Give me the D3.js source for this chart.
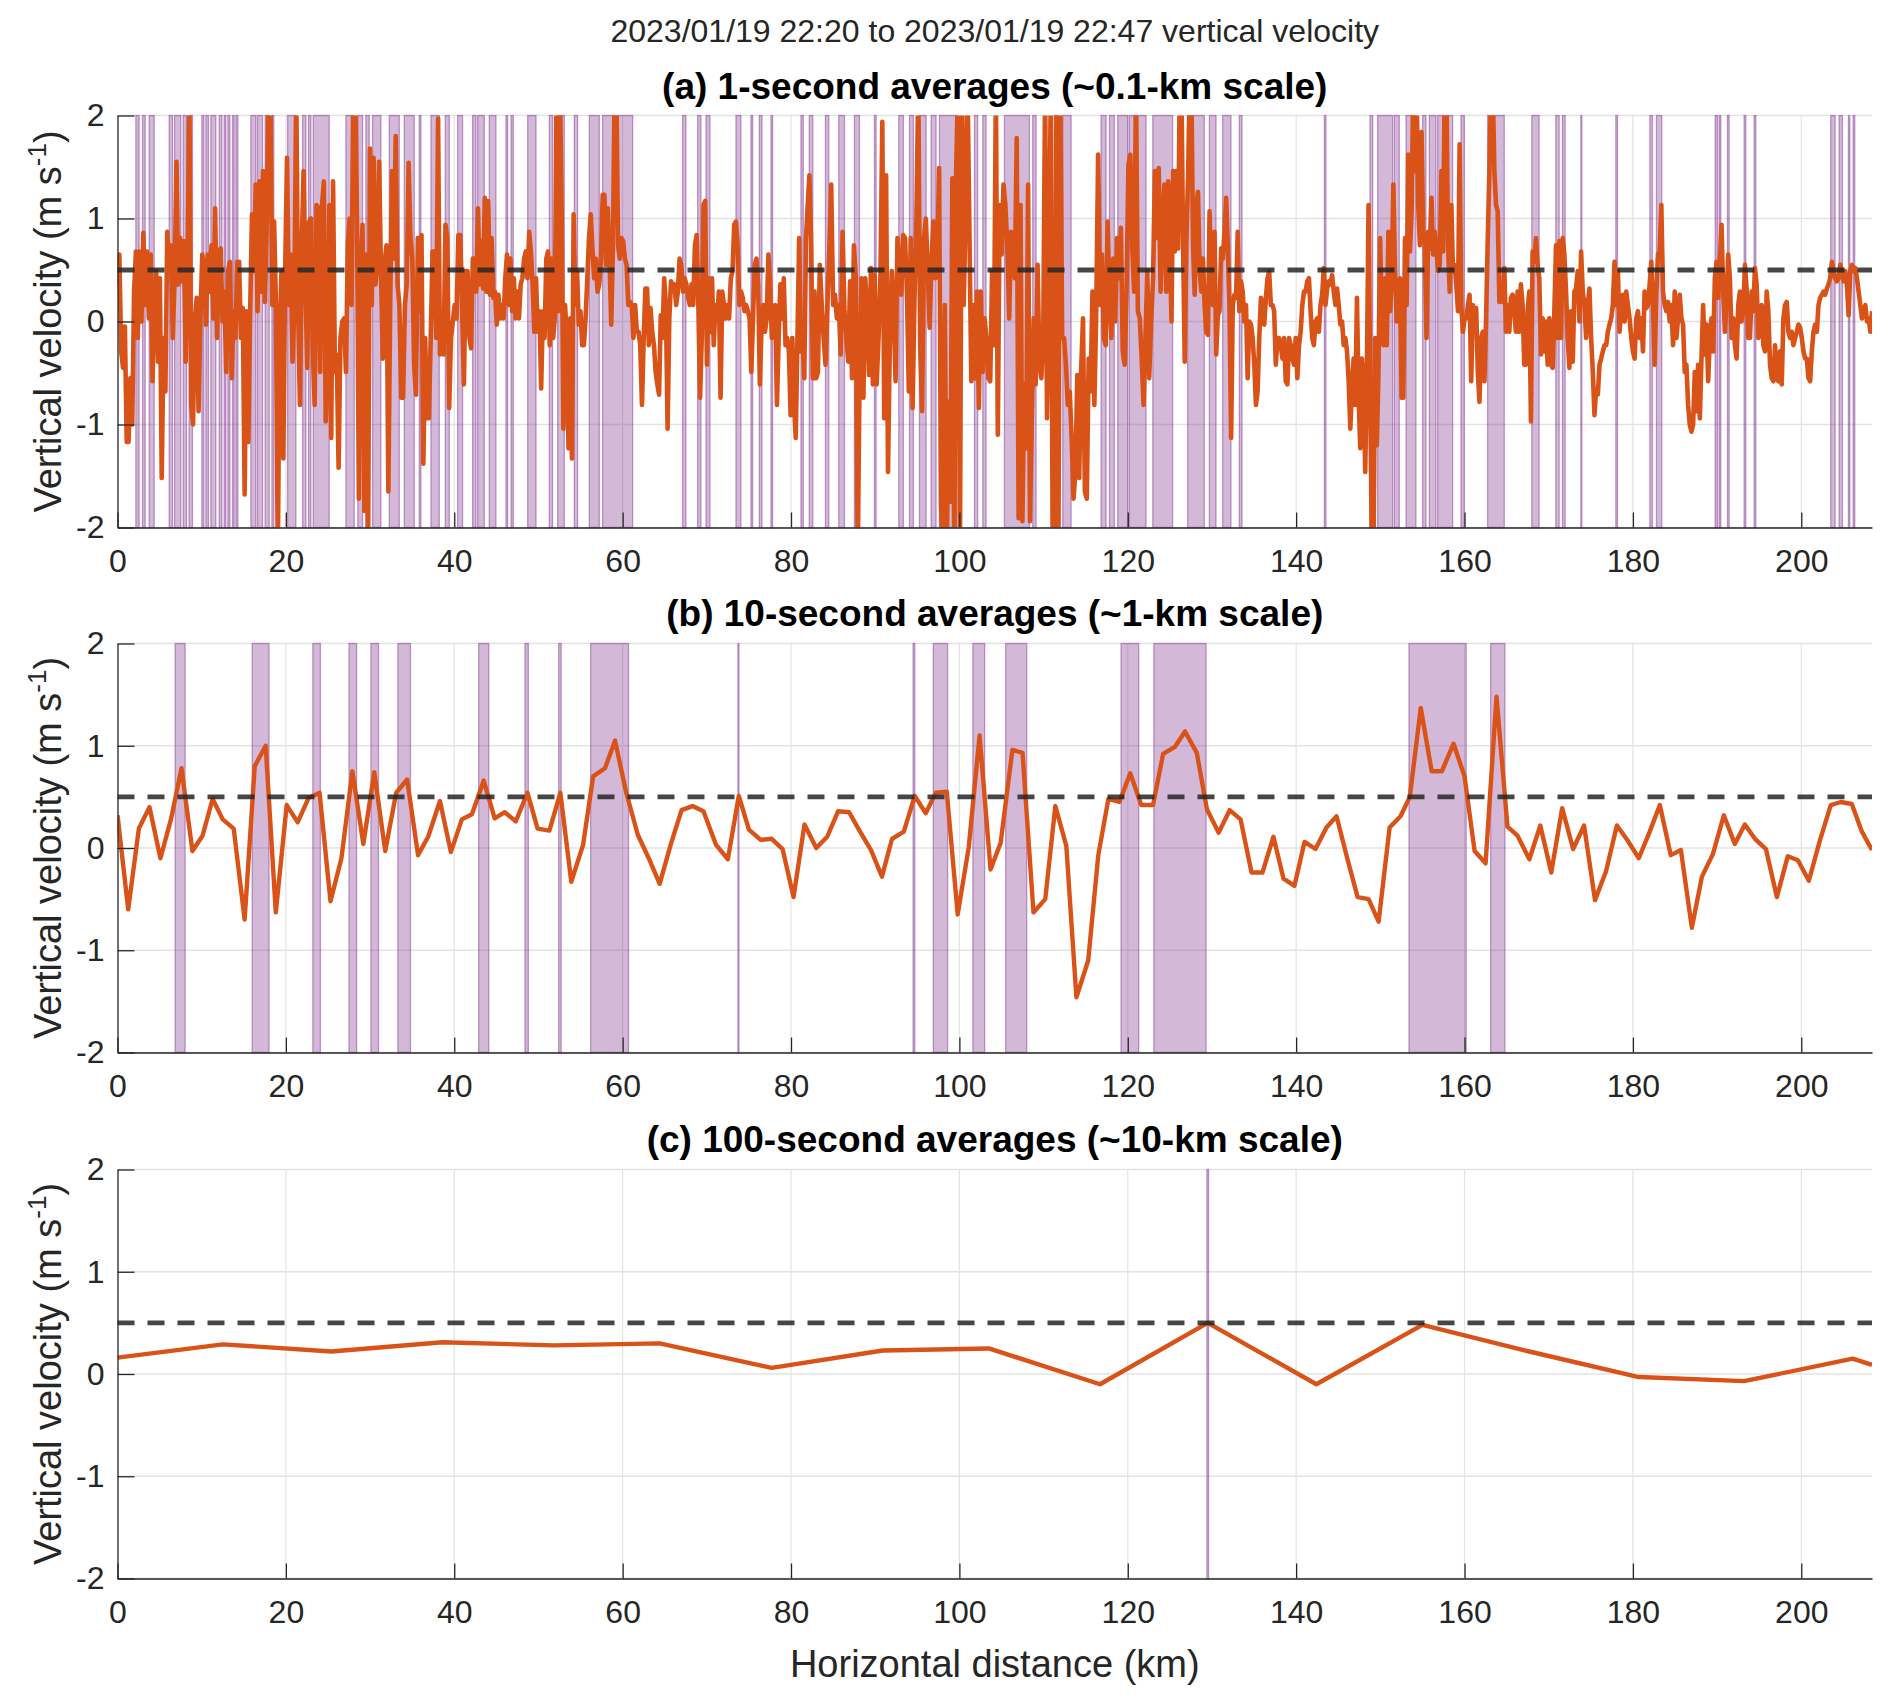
<!DOCTYPE html>
<html><head><meta charset="utf-8">
<script src="https://cdn.jsdelivr.net/npm/d3@7/dist/d3.min.js"></script>
<style>
body{margin:0;background:#fff}
svg{display:block}
text{font-family:"Liberation Sans",Arial,Helvetica,sans-serif;fill:#262626}
</style>
</head><body>
<svg id="chart" width="1892" height="1705"></svg>
<script>
// ---------------- DATA ----------------
const superTitle = "2023/01/19 22:20 to 2023/01/19 22:47 vertical velocity";
const panelTitles = ["(a) 1-second averages (~0.1-km scale)", "(b) 10-second averages (~1-km scale)", "(c) 100-second averages (~10-km scale)"];
const xLabel = "Horizontal distance (km)";
const xTicks = [0,20,40,60,80,100,120,140,160,180,200];
const yTicks = [-2,-1,0,1,2];
const xMax = 208.4;
const threshold = 0.5;

// (a) 1-second series, read in five consecutive distance chunks (km edges)
const aEdges = [0, 41.8, 83.2, 124.8, 166.3, 208.4];
const aChunk1 = [0.36,0.65,-0.29,-0.45,-0.05,-1.17,-1.17,-0.55,-1.00,0.29,0.68,-0.16,0.68,0,0.86,0.16,0.68,0.03,0.65,-0.58,
0.16,0.49,-0.39,0.42,-1.52,-0.16,-0.68,0.87,0.49,0.74,-0.16,0.42,1.55,0.36,0.81,0.39,0.78,-0.39,0.49,2.3,
-0.81,-1.00,0.03,0.23,-0.87,0.03,0.65,0.55,-0.03,0.65,0.29,0.74,0.03,1.10,-0.16,0.68,0.71,0,0.29,-0.49,
0.49,0.58,-0.55,0.10,-0.16,0.58,0.58,-0.16,0.13,-1.68,0.10,-1.17,0.10,1.04,0.49,1.33,0.10,1.36,0.29,1.46,
0.19,0.97,2.3,2.3,0.16,0.97,0.16,-2.3,-0.16,0.49,-1.33,0.49,1.59,0.16,0.65,-0.39,0.16,2.3,0.16,-0.81,
0.74,1.46,0.32,-0.45,0.97,1.00,-0.29,-0.81,1.13,1.10,-0.49,1.13,1.36,-0.97,-0.49,1.13,-1.13,1.36,-0.49,-0.32,
-1.42,-0.16,0,0.03,-0.49,0.74,1.00,0.16,2.3,2.3,0.94,-1.72,0.49,0.94,-1.84,0.65,-2.3,1.68,0.16,1.59,
0.36,0.55,1.55,0.49,-0.36,0.58,0.74,-1.65,0.16,1.46,0.61,1.80,0.36,0.16,-0.74,-0.74,0.16,0.36,1.54,0.81,
0.61,-0.42,-0.71,0.81,0.10,0.84,-1.38,-0.16,-0.94,-0.94,-0.16,0.68,0.68,-0.16,1.97,-0.32,0.03,-0.32,0.94,0.81,
-0.84,-0.16,0,0.16,0.03,0.84,0.84,0.16,-0.61,0.49,0.49];
const aChunk2 = [-0.16,-0.26,0.61,0.61,0.29,1.10,0.36,0.78,0.32,1.20,0.29,1.17,0.26,0.81,0.23,0.29,-0.03,0.26,0.03,0.16,
0.03,0.42,0.65,0.16,0.61,0.10,0.42,0.03,0.29,0.03,0.36,0.42,0.61,0.68,0.42,0.87,0.68,0.36,-0.10,0.42,
-0.10,0.10,-0.65,0.10,-0.16,0.61,0.68,-0.23,0.61,-0.16,0.03,2.3,0.10,2.3,1.07,-1.04,0.16,-0.16,-1.23,0.03,
-1.33,1.04,0.16,0.49,-0.03,0.10,-0.23,-0.23,0.03,0.42,0.81,1.04,0.71,0.42,0.61,0.29,0.36,0.61,1.23,1.23,
0.55,1.10,0.61,-0.03,0.74,2.3,2.3,0.74,0.61,0.81,0.78,0.61,0.55,0.16,0.19,0.16,-0.16,0.16,-0.10,-0.10,
-0.23,-0.81,-0.16,0.32,0.32,-0.23,0.13,-0.10,-0.23,-0.49,-0.61,-0.71,0.06,-0.16,0.42,0.16,-1.04,0.03,0.39,0.36,
0.36,0.16,0.29,0.61,0.55,0.29,0.42,0.36,0.23,0.16,0.36,0.16,0.74,0.84,0.16,-0.74,-0.16,1.13,1.17,-0.42,
0.42,-0.10,0.42,-0.23,0.16,0,0.29,-0.74,0.29,0.16,0.03,0.16,0.03,0.42,0.49,0.94,0.97,0.74,0.16,0.29,
0.23,0.10,0.16,0.10,0.03,-0.49,0.03,0.55,0.61,0.36,-0.61,-0.03,0.16,-0.10,0.03,0.65,0.36,-0.16,-0.10,0.16,
-0.81,-0.16,0.36,0.03,0.42,-0.23,-0.16,-0.29,-0.91,-0.16,-0.81,-1.13,-0.16,0.81,-0.29,-0.16,-0.55,0.81,1.13,1.42,
0.74,-0.55,0.29,-0.55];
const aChunk3 = [-0.49,0.55,0.16,-0.16,-0.42,0.16,0.71,1.33,0.16,0.26,0.03,0.16,-0.32,0.87,0.10,-0.16,-0.39,0.39,-0.55,0.74,
0.42,-2.3,-0.49,0.42,-0.74,0.42,0.10,-0.52,0.52,-0.61,0.45,-0.61,-0.16,0.42,1.94,-0.94,1.42,-1.46,-0.16,0.49,
0.10,-0.58,0.81,0.45,0.26,0.84,0.81,0.29,-0.68,0.81,-0.84,0.23,1.00,2.3,-0.23,-0.87,0.81,1.00,0.49,-0.06,
0.61,0.97,0.42,0.61,1.49,-1.78,-2.3,0.16,-2.3,-0.78,-1.75,1.39,-2.3,1.46,2.3,-2.3,2.3,0.16,1.07,2.3,
0.91,-0.58,0.16,-0.55,0.29,-0.84,0.29,-0.49,0.03,-0.16,-0.55,-0.58,0.49,-0.23,2.3,-1.10,1.13,0.65,1.33,1.13,
0.74,0.03,0.87,0.61,0.42,1.78,-1.91,1.13,-1.94,-0.61,-1.23,1.33,-1.94,-0.91,0.03,-0.61,0.55,-0.42,-0.55,-0.16,
2.3,-0.94,0.29,2.3,-2.3,-2.3,2.3,-2.3,2.3,-0.16,-0.16,-0.42,-0.81,-0.68,-1.13,-1.72,-1.46,-0.52,-1.52,-0.49,
0.03,-1.65,-1.72,-0.36,-0.68,0.29,-0.81,0.10,1.62,0.16,0.65,-0.16,-0.23,0.97,0.23,-0.16,0.61,0,0.81,0.42,
0.91,-0.29,-0.42,0.29,1.52,1.62,0.74,0.29,2.3,0.10,0.03,-0.36,-0.81,-0.16,0.49,-0.55,0,0.42,1.46,0.81,
1.49,0.29,1.00,1.33,0.29];
const aChunk4 = [1.36,0.74,0,1.46,0.68,1.46,0.71,2.3,2.3,0.74,-0.39,0.81,1.39,2.3,2.3,0.74,0.26,1.13,1.26,0.49,
0.29,0.61,0.16,-0.10,-0.13,1.07,0.32,0.16,0.87,-0.32,0.06,0.10,0.71,0.61,0.87,1.20,0.74,0.16,-1.13,0.16,
0.26,0.23,0.87,0.10,0.39,0.29,0,0.16,-0.55,0,-0.03,-0.16,-0.42,-0.81,-0.68,-0.16,0.23,0.16,-0.03,0.23,
0.42,0.49,0.16,0.16,0.10,-0.42,-0.16,-0.16,-0.23,-0.36,-0.16,-0.58,-0.61,-0.16,-0.23,-0.36,-0.42,-0.16,-0.55,-0.23,
-0.10,0.16,0.29,0.29,0.39,0.42,0.10,-0.16,-0.23,0,0.03,-0.10,0.16,0.26,0.52,0.16,0.32,0.39,0.36,0.45,
0.29,0.16,0.32,0.16,-0.03,0,-0.23,-0.16,-0.29,-0.58,-1.04,-0.61,-0.36,-0.81,0.23,-0.74,-1.23,-0.36,-0.58,-1.46,
-0.49,1.13,-0.58,-2.3,-2.3,-0.16,-1.20,-0.49,0.81,0.03,-0.23,0.42,-0.23,0.87,0.10,0.42,1.33,0.49,0,0.29,
0.42,-0.74,-0.74,0.81,0.16,1.62,0.68,1.07,2.3,1.46,2.3,1.13,0.74,1.84,0.87,0.74,-0.16,0.87,0.71,1.20,
0.65,0.87,0.71,0.49,0.55,1.46,0.68,2.3,2.3,0.74,0.29,1.13,0.49,0.55,0.36,0.10,1.72,0.16,-0.10,0.03,
0.03,0.16,0.26,-0.58,0.16,0.10,0.13,-0.49,-0.78,-0.16,-0.10,-0.58,0.03,0.81,1.46,2.3,2.3,1.46,1.13,1.07,
0.19,0.29,0.19,0.52,-0.10,0.16,-0.10,0.23,0.26,0.10,-0.10];
const aChunk5 = [0.29,-0.10,0.36,0.16,-0.42,-0.42,0.10,0.29,-0.97,0.68,0.58,0.81,0.55,0.42,-0.32,0.03,-0.29,0,-0.42,0.03,
-0.42,-0.45,0.10,0.74,-0.16,0.78,-0.16,0.81,0.65,0.29,-0.16,-0.45,0.10,-0.39,0.29,0.32,0.49,0,0.68,0.29,
0.16,-0.16,0.16,0.32,-0.16,-0.49,-0.91,-0.65,-0.71,-0.42,-0.36,-0.29,-0.23,-0.23,-0.10,-0.03,0.03,0.16,0.58,0.16,
0.49,-0.10,0.10,0.26,0,0.29,0.16,0.03,-0.16,-0.29,-0.36,0.03,0.10,-0.16,0.03,-0.29,0.29,0.13,0.16,0.36,
0.58,0.16,-0.42,0.29,0.65,0.68,1.13,0.29,0.16,0.10,0.19,0,0.16,-0.23,0.29,-0.16,0.03,0.26,0.03,-0.03,
-0.49,-0.42,-0.81,-1.00,-1.07,-1.00,-0.49,-0.87,-0.42,-0.94,-0.36,0.16,-0.32,-0.03,-0.58,-0.16,0.03,-0.29,0.42,0.58,
0.23,0.61,0.94,0.29,-0.10,0.19,0.65,0.42,-0.16,0.03,-0.23,-0.36,0.16,0.29,0,0.10,0.55,0.32,-0.16,-0.16,
0.29,0.10,0.52,0.36,-0.16,-0.03,0.16,-0.23,-0.29,0.29,0.10,-0.42,-0.55,-0.58,-0.23,-0.55,-0.58,-0.29,-0.61,0.03,
0.16,0.19,-0.10,-0.16,-0.10,-0.23,-0.16,-0.10,-0.03,-0.06,-0.16,-0.29,-0.36,-0.36,-0.55,-0.58,-0.29,-0.10,-0.03,-0.10,
0.16,0.23,0.26,0.29,0.26,0.32,0.36,0.42,0.58,0.49,0.42,0.39,0.42,0.55,0.49,0.39,0.49,0.36,0.06,0.49,
0.55,0.49,0.52,0.42,0.29,0.16,0.03,0.10,0.16,0,0.03,-0.10,0.10];
const aSpans = [[2.18,2.57],[2.97,3.29],[3.76,4.36],[6.14,6.53],[6.77,7.52],[7.80,8.20],[8.51,8.91],[10.02,10.26],[10.50,10.81],[11.09,11.68],
[12.08,12.40],[12.67,12.87],[13.11,13.35],[13.66,13.86],[14.06,14.30],[15.84,16.44],[16.63,17.23],[17.54,18.02],[18.34,18.57],[20.20,21.19],
[21.98,22.38],[22.69,22.97],[23.25,25.15],[27.13,28.12],[28.55,29.11],[29.50,29.90],[30.30,31.29],[32.28,33.47],[34.06,35.25],[35.84,36.04],
[37.23,38.22],[38.93,39.41],[40.40,40.99],[42.18,42.58],[42.78,43.57],[44.16,44.95],[46.14,46.34],[46.74,47.01],[48.72,49.71],[51.29,51.68],
[52.28,53.07],[54.26,54.65],[56.04,57.23],[57.62,61.19],[67.12,67.52],[68.91,69.30],[69.90,70.37],[73.46,74.05],[75.24,75.44],[76.23,76.55],
[77.62,77.81],[81.18,81.46],[82.17,82.59],[84.09,84.49],[85.67,86.35],[87.53,88.13],[89.91,90.11],[92.80,93.35],[94.07,94.54],[95.25,96.05],
[96.64,97.23],[97.63,99.69],[101.79,102.18],[102.78,103.17],[105.35,108.32],[108.71,109.11],[111.29,111.68],[112.28,113.27],[116.83,117.42],[117.82,118.41],
[118.81,120.00],[120.19,122.17],[122.97,125.33],[127.11,129.09],[129.69,130.48],[131.27,132.26],[133.25,133.57],[143.35,143.54],[148.77,149.09],[149.68,151.46],
[151.66,152.25],[153.05,154.23],[155.02,155.42],[155.82,156.61],[156.81,158.59],[159.58,159.97],[162.74,164.72],[167.99,168.86],[170.84,171.24],[171.63,171.95],
[173.81,173.93],[177.97,178.17],[182.01,182.32],[182.80,183.43],[189.77,190.04],[190.24,190.44],[191.23,191.43],[193.21,193.41],[194.40,194.60],[203.50,204.02],
[204.49,204.89],[205.60,205.76],[206.16,206.35]];

// (b) 10-second series
const bKm = [0,1.27,2.54,3.8,5.1,6.35,7.6,8.9,10.1,11.3,12.5,13.8,15.1,16.3,17.6,18.8,20.1,21.4,22.7,24.0,
25.3,26.6,27.9,29.2,30.5,31.8,33.1,34.4,35.7,36.9,38.3,39.6,40.9,42.1,43.5,44.8,46.0,47.3,48.7,49.9,
51.3,52.6,53.9,55.3,56.5,57.9,59.1,60.4,61.8,63.1,64.4,65.7,67.0,68.3,69.6,71.1,72.5,73.8,75.0,76.4,
77.7,79.0,80.3,81.6,83.0,84.3,85.6,86.9,88.2,89.5,90.8,92.0,93.4,94.7,96.0,97.2,98.5,99.8,101.1,102.4,
103.7,104.9,106.3,107.5,108.8,110.2,111.4,112.7,113.9,115.3,116.5,117.7,119.0,120.3,121.6,123.0,124.2,125.6,126.8,128.2,
129.4,130.8,132.1,133.4,134.7,136.0,137.3,138.5,139.8,141.0,142.3,143.6,144.8,146.1,147.3,148.6,149.8,151.1,152.4,153.5,
154.8,156.1,157.3,158.7,160.0,161.2,162.5,163.8,165.1,166.3,167.7,169.0,170.3,171.6,172.9,174.2,175.5,176.8,178.1,179.4,
180.7,182.0,183.2,184.5,185.7,187.0,188.2,189.5,190.8,192.1,193.3,194.5,195.8,197.1,198.4,199.6,200.9,202.2,203.5,204.7,
206.0,207.2,208.4];
const bVal = [0.32,-0.60,0.19,0.40,-0.10,0.28,0.78,-0.03,0.12,0.48,0.28,0.19,-0.70,0.80,1.00,-0.63,0.42,0.25,0.49,0.54,
-0.52,-0.10,0.75,0.04,0.74,-0.03,0.54,0.67,-0.07,0.11,0.46,-0.04,0.28,0.33,0.66,0.29,0.35,0.26,0.54,0.19,
0.17,0.54,-0.33,0.03,0.70,0.78,1.05,0.55,0.13,-0.10,-0.35,0.03,0.37,0.41,0.36,0.03,-0.11,0.51,0.18,0.08,
0.09,-0.01,-0.48,0.23,0.00,0.11,0.36,0.35,0.16,-0.02,-0.28,0.09,0.16,0.51,0.34,0.54,0.55,-0.65,0.00,1.10,
-0.21,0.05,0.96,0.93,-0.63,-0.50,0.41,0.02,-1.46,-1.10,-0.07,0.48,0.45,0.73,0.42,0.42,0.92,0.99,1.14,0.93,
0.38,0.15,0.37,0.28,-0.24,-0.24,0.11,-0.30,-0.37,0.06,-0.01,0.20,0.31,-0.11,-0.48,-0.50,-0.72,0.20,0.31,0.50,
1.37,0.75,0.75,1.02,0.70,-0.03,-0.15,1.48,0.21,0.12,-0.11,0.22,-0.24,0.39,-0.01,0.22,-0.51,-0.23,0.22,0.07,
-0.10,0.16,0.42,-0.07,-0.02,-0.78,-0.28,-0.06,0.32,0.04,0.23,0.09,-0.01,-0.48,-0.08,-0.12,-0.32,0.07,0.42,0.45,
0.43,0.16,-0.02];
const bSpans = [[6.85,8.03],[16.0,18.0],[23.2,24.1],[27.5,28.4],[30.1,31.0],[33.3,34.8],[42.9,44.1],[48.4,48.8],[52.4,52.7],[56.2,60.7],
[73.7,73.8],[94.5,94.7],[96.9,98.6],[101.6,103.0],[105.5,108.0],[119.2,121.3],[123.1,129.3],[153.4,160.2],[163.1,164.8]];

// (c) 100-second series
const cKm = [0,12.5,25.4,38.6,51.8,64.4,77.7,90.9,103.5,116.7,129.5,142.4,155.0,167.7,180.7,193.2,206.1,208.4];
const cVal = [0.16,0.29,0.22,0.31,0.28,0.30,0.06,0.23,0.25,-0.10,0.50,-0.10,0.48,0.22,-0.03,-0.07,0.15,0.09];
const cSpans = [[129.4,129.6]];

// ---------------- BUILD ----------------
const aChunks = [aChunk1, aChunk2, aChunk3, aChunk4, aChunk5];
const aSeries = [];
aChunks.forEach((vals, i) => {
  const e0 = aEdges[i], e1 = aEdges[i+1];
  const n = (i === aChunks.length - 1) ? vals.length - 1 : vals.length;
  vals.forEach((v, j) => aSeries.push([e0 + j * (e1 - e0) / n, v]));
});
const bSeries = bKm.map((k, i) => [k, bVal[i]]);
const cSeries = cKm.map((k, i) => [k, cVal[i]]);

const svg = d3.select("#chart");
const LEFT = 117.5, RIGHT = 1872;
const FONT = '"Liberation Sans",Arial,Helvetica,sans-serif';
const panels = [
  {top: 115.5, bottom: 527.5, series: aSeries, spans: aSpans, title: panelTitles[0], titleY: 99, lw: 4.6},
  {top: 643.5, bottom: 1052.5, series: bSeries, spans: bSpans, title: panelTitles[1], titleY: 626, lw: 4.4},
  {top: 1169.5, bottom: 1578.5, series: cSeries, spans: cSpans, title: panelTitles[2], titleY: 1152, lw: 4.4}
];

svg.append("text").attr("x", (LEFT + RIGHT) / 2).attr("y", 42).attr("text-anchor", "middle")
  .style("font-size", "32px").text(superTitle);

const x = d3.scaleLinear().domain([0, xMax]).range([LEFT, RIGHT]);

panels.forEach((p, pi) => {
  const y = d3.scaleLinear().domain([-2, 2]).range([p.bottom, p.top]);
  const g = svg.append("g");
  const clipId = "clip" + pi;
  svg.append("clipPath").attr("id", clipId).append("rect")
    .attr("x", LEFT).attr("y", p.top).attr("width", RIGHT - LEFT).attr("height", p.bottom - p.top);

  // grid
  g.append("g").selectAll("line").data(xTicks.filter(t => t > 0)).join("line")
    .attr("x1", d => x(d)).attr("x2", d => x(d)).attr("y1", p.top).attr("y2", p.bottom)
    .attr("stroke", "#e3e3e3").attr("stroke-width", 1.2);
  g.append("g").selectAll("line").data(yTicks).join("line")
    .attr("x1", LEFT).attr("x2", RIGHT).attr("y1", d => y(d)).attr("y2", d => y(d))
    .attr("stroke", "#e3e3e3").attr("stroke-width", 1.4);

  // shaded spans
  g.append("g").selectAll("rect").data(p.spans).join("rect")
    .attr("x", d => x(d[0])).attr("y", p.top)
    .attr("width", d => Math.max(1, x(d[1]) - x(d[0]))).attr("height", p.bottom - p.top)
    .attr("fill", "#7e2f8e").attr("fill-opacity", 0.34)
    .attr("stroke", "#7e2f8e").attr("stroke-opacity", 0.45).attr("stroke-width", 1.3);

  // data line
  const line = d3.line().x(d => x(d[0])).y(d => y(d[1]));
  g.append("path").datum(p.series).attr("clip-path", `url(#${clipId})`)
    .attr("d", line).attr("fill", "none").attr("stroke", "#d95319")
    .attr("stroke-width", p.lw).attr("stroke-linejoin", "round");

  // threshold dashed line
  g.append("line").attr("x1", x(0)).attr("x2", RIGHT).attr("y1", y(threshold)).attr("y2", y(threshold))
    .attr("stroke", "#262626").attr("stroke-opacity", 0.85).attr("stroke-width", 4.8)
    .attr("stroke-dasharray", "17,13");

  // axes
  const ax = g.append("g").attr("transform", `translate(0,${p.bottom})`)
    .call(d3.axisBottom(x).tickValues(xTicks).tickFormat(d3.format("d")).tickSizeInner(-15).tickSizeOuter(0).tickPadding(22));
  const ay = g.append("g").attr("transform", `translate(${LEFT},0)`)
    .call(d3.axisLeft(y).tickValues(yTicks).tickFormat(d => d < 0 ? "-" + Math.abs(d) : String(d)).tickSizeInner(-17).tickSizeOuter(0).tickPadding(13));
  [ax, ay].forEach(a => {
    a.select(".domain").attr("stroke", "#262626").attr("stroke-width", 1.3);
    a.selectAll(".tick line").attr("stroke", "#262626").attr("stroke-width", 1.3);
    a.selectAll(".tick text").style("font-size", "32px").attr("fill", "#262626").style("font-family", FONT);
  });

  // titles
  svg.append("text").attr("x", (LEFT + RIGHT) / 2).attr("y", p.titleY).attr("text-anchor", "middle")
    .style("font-size", "37px").style("font-weight", "bold").style("fill", "#000").text(p.title);

  // y label
  const yl = svg.append("text").attr("transform", `translate(61,${(p.top + p.bottom) / 2}) rotate(-90)`)
    .attr("text-anchor", "middle").style("font-size", "38px");
  yl.append("tspan").text("Vertical velocity (m s");
  yl.append("tspan").attr("dy", -15).style("font-size", "26px").text("-1");
  yl.append("tspan").attr("dy", 15).text(")");
});

svg.append("text").attr("x", (LEFT + RIGHT) / 2).attr("y", 1677).attr("text-anchor", "middle")
  .style("font-size", "38px").text(xLabel);
</script>
</body></html>
